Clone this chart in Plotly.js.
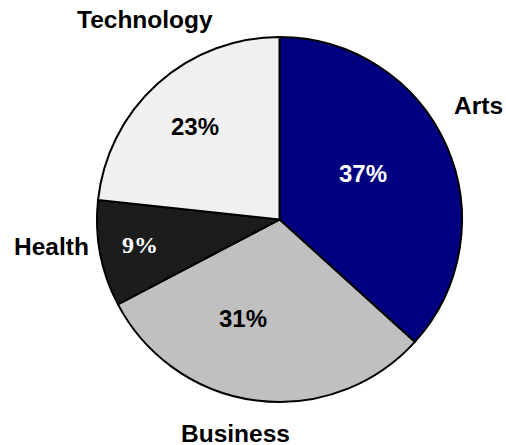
<!DOCTYPE html>
<html>
<head>
<meta charset="utf-8">
<script src="https://cdn.plot.ly/plotly-3.0.1.min.js"></script>
<style>html,body{margin:0;padding:0;background:#fff;}#chart{width:506px;height:445px;}</style>
</head>
<body>
<div id="chart"></div>
<script>
// Data
const categories = ["Arts", "Business", "Health", "Technology"];
const shares = [36.7, 30.6, 9.4, 23.3];
const percentLabels = ["37%", "31%", "9%", "23%"];

// Styles
const sliceColors = ["#000080", "#c0c0c0", "#1c1c1c", "#f0f0f0"];
const pctColors = ["#ffffff", "#000000", "#ffffff", "#000000"];
const pctFamilies = ["Liberation Sans, Arial, sans-serif", "Liberation Sans, Arial, sans-serif",
                     "Liberation Serif, Times New Roman, serif", "Liberation Sans, Arial, sans-serif"];

const W = 506, H = 445;
const M = {l: 97, r: 44, t: 37, b: 43};
const PW = W - M.l - M.r, PH = H - M.t - M.b;
function px2paper(x, y) { return {x: (x - M.l) / PW, y: (H - M.b - y) / PH}; }

// label placement (pixel centres of text)
const catPos = [[479, 105], [235, 433], [51.5, 246], [145, 19.5]];
const pctPos = [[362.5, 173.5], [243, 318], [139.5, 245], [194.7, 126]];

const annotations = [];
categories.forEach((c, i) => {
  const p = px2paper(catPos[i][0], catPos[i][1]);
  annotations.push({x: p.x, y: p.y, xref: 'paper', yref: 'paper', text: c, showarrow: false,
    xanchor: 'center', yanchor: 'middle',
    font: {family: 'Liberation Sans, Arial, sans-serif', size: 24.5, color: '#000', weight: 700}});
});
percentLabels.forEach((t, i) => {
  const p = px2paper(pctPos[i][0], pctPos[i][1]);
  annotations.push({x: p.x, y: p.y, xref: 'paper', yref: 'paper', text: t, showarrow: false,
    xanchor: 'center', yanchor: 'middle',
    font: {family: pctFamilies[i], size: 24, color: pctColors[i], weight: 700}});
});

const trace = {
  type: 'pie',
  labels: categories,
  values: shares,
  sort: false,
  direction: 'clockwise',
  rotation: 0,
  textinfo: 'none',
  hoverinfo: 'label+percent',
  marker: {colors: sliceColors, line: {color: '#000', width: 2}},
  showlegend: false
};

Plotly.newPlot('chart', [trace], {
  width: W, height: H,
  margin: M,
  paper_bgcolor: '#fff',
  plot_bgcolor: '#fff',
  showlegend: false,
  annotations: annotations
}, {displayModeBar: false, staticPlot: true});
</script>
</body>
</html>
